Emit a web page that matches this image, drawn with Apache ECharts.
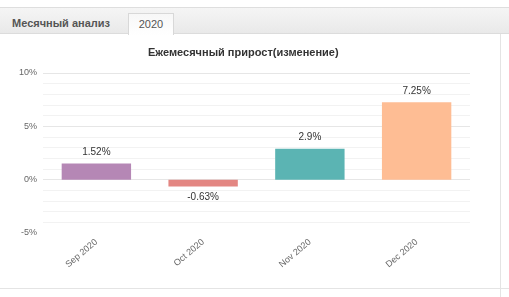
<!DOCTYPE html>
<html>
<head>
<meta charset="utf-8">
<script src="https://cdn.jsdelivr.net/npm/echarts@6/dist/echarts.min.js"></script>
<style>
  body { margin: 0; background: #fff; font-family: "Liberation Sans", Arial, sans-serif; }
  #wrap { position: relative; width: 509px; height: 297px; overflow: hidden; }
  .tabs { position: absolute; left: 0; top: 7px; width: 509px; height: 27px;
          background: linear-gradient(#f5f5f5, #e9e9e9);
          border-top: 1px solid #dedede; border-bottom: 1px solid #dcdcdc; box-sizing: border-box; }
  .tab1 { position: absolute; left: 12px; top: 9px; font-size: 11px; font-weight: bold; color: #555; }
  .tab2 { position: absolute; left: 128px; top: 5px; width: 46px; height: 22px; box-sizing: border-box;
          border: 1px solid #d8d8d8; border-bottom: none; background: linear-gradient(#f7f7f7, #fff);
          font-size: 11px; color: #555; text-align: center; line-height: 21px; }
  .vline { position: absolute; left: 500px; top: 34px; width: 1px; height: 263px; background: #e4e4e4; }
  .hline { position: absolute; left: 0; top: 288px; width: 509px; height: 1px; background: #e4e4e4; }
  #chart { position: absolute; left: 0; top: 35px; width: 500px; height: 253px; }
</style>
</head>
<body>
<div id="wrap">
  <div class="tabs">
    <span class="tab1">Месячный анализ</span>
    <div class="tab2">2020</div>
  </div>
  <div class="vline"></div>
  <div class="hline"></div>
  <div id="chart"></div>
</div>
<script>
// monthly growth, percent
var months = ['Sep 2020', 'Oct 2020', 'Nov 2020', 'Dec 2020'];
var growth = [1.52, -0.63, 2.9, 7.25];
var barColors = ['#b587b5', '#e38682', '#5bb4b3', '#febd94'];

var chart = echarts.init(document.getElementById('chart'));

var option = {
    animation: false,
    title: {
        text: 'Ежемесячный прирост(изменение)',
        left: 143,
        top: 7,
        textStyle: { fontSize: 11, fontWeight: 'bold', color: '#333', fontFamily: 'Liberation Sans' }
    },
    grid: { left: 43, right: 30, top: 38, bottom: 55 },
    xAxis: {
        type: 'category',
        data: months,
        axisLine: { show: false },
        axisTick: { show: false },
        axisLabel: { rotate: 40, margin: 8, fontSize: 9, color: '#666', fontFamily: 'Liberation Sans' }
    },
    yAxis: {
        type: 'value',
        min: -5,
        max: 10,
        interval: 5,
        axisLine: { show: false },
        axisTick: { show: false },
        axisLabel: { formatter: '{value}%', fontSize: 9, color: '#666', margin: 6, fontFamily: 'Liberation Sans' },
        splitLine: { lineStyle: { color: ['transparent', '#e6e6e6', '#e6e6e6', '#e6e6e6'] } },
        minorTick: { show: false, splitNumber: 5 },
        minorSplitLine: { show: true, lineStyle: { color: '#f2f2f2' } }
    },
    series: [{
        type: 'bar',
        barWidth: '65%',
        data: growth.map(function (v, i) {
            return {
                value: v,
                itemStyle: { color: barColors[i] },
                label: { position: v < 0 ? 'bottom' : 'top' }
            };
        }),
        label: {
            show: true,
            distance: 6,
            fontSize: 10,
            color: '#333',
            fontFamily: 'Liberation Sans',
            formatter: '{c}%'
        }
    }]
};

chart.setOption(option);
</script>
</body>
</html>
